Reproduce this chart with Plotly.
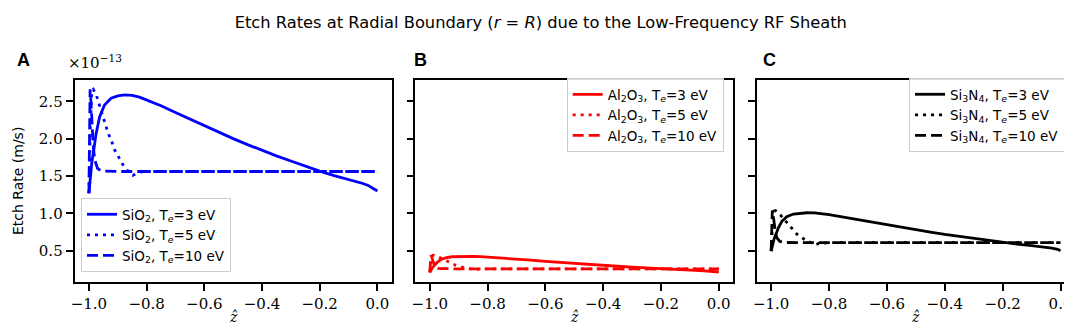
import plotly.graph_objects as go

# ---------------- data (rates in units of 1e-13 m/s) -------------
z_te3 = [-1.0, -0.995, -0.99, -0.985, -0.975, -0.963, -0.946, -0.923, -0.90, -0.876,
         -0.85, -0.825, -0.80, -0.775, -0.75, -0.70, -0.65, -0.60, -0.55, -0.50, -0.45, -0.40,
         -0.35, -0.30, -0.25, -0.20, -0.15, -0.10, -0.05, -0.03, -0.01, 0.0]
z_te5 = [-1.0, -0.995, -0.99, -0.985, -0.975, -0.965, -0.952, -0.943, -0.934, -0.92,
         -0.911, -0.895, -0.882, -0.865, -0.848, -0.835, -0.82, -0.80, -0.60, -0.40,
         -0.20, 0.0]
z_te10 = [-1.0, -0.998, -0.996, -0.993, -0.99, -0.985, -0.98, -0.975, -0.97, -0.96,
          -0.95, -0.90, -0.50, 0.0]

sio2_te3 = [1.27, 1.50, 1.68, 1.80, 2.07, 2.29, 2.45, 2.54, 2.572, 2.585,
            2.578, 2.555, 2.52, 2.48, 2.44, 2.35, 2.26, 2.17, 2.08, 2.00, 1.92, 1.84,
            1.77, 1.70, 1.63, 1.565, 1.505, 1.455, 1.40, 1.37, 1.33, 1.30]
sio2_te5 = [1.27, 2.20, 2.64, 2.66, 2.59, 2.47, 2.32, 2.20, 2.08, 1.95,
            1.85, 1.74, 1.65, 1.57, 1.51, 1.53, 1.555, 1.56, 1.56, 1.56,
            1.56, 1.56]
sio2_te10 = [1.27, 2.00, 2.66, 2.50, 2.20, 1.90, 1.72, 1.64, 1.60, 1.575,
             1.565, 1.56, 1.56, 1.56]

al2o3_te3 = [0.210, 0.248, 0.277, 0.297, 0.342, 0.378, 0.404, 0.419, 0.424, 0.427,
             0.425, 0.422, 0.416, 0.409, 0.403, 0.388, 0.373, 0.358, 0.343, 0.330, 0.317, 0.304,
             0.292, 0.281, 0.269, 0.258, 0.248, 0.240, 0.231, 0.226, 0.219, 0.215]
al2o3_te5 = [0.210, 0.363, 0.436, 0.439, 0.427, 0.408, 0.383, 0.363, 0.343, 0.322,
             0.305, 0.287, 0.272, 0.259, 0.249, 0.252, 0.257, 0.257, 0.257, 0.257,
             0.257, 0.257]
al2o3_te10 = [0.210, 0.330, 0.439, 0.413, 0.363, 0.314, 0.284, 0.271, 0.264, 0.260,
              0.258, 0.257, 0.257, 0.257]

si3n4_te3 = [0.495, 0.585, 0.655, 0.702, 0.807, 0.893, 0.956, 0.991, 1.003, 1.008,
             1.005, 0.996, 0.983, 0.967, 0.952, 0.917, 0.881, 0.846, 0.811, 0.780, 0.749, 0.718,
             0.690, 0.663, 0.636, 0.610, 0.587, 0.567, 0.546, 0.534, 0.519, 0.500]
si3n4_te5 = [0.495, 0.858, 1.030, 1.037, 1.010, 0.963, 0.905, 0.858, 0.811, 0.761,
             0.722, 0.679, 0.644, 0.612, 0.580, 0.597, 0.606, 0.608, 0.608, 0.608,
             0.608, 0.608]
si3n4_te10 = [0.495, 0.780, 1.037, 0.975, 0.858, 0.741, 0.671, 0.640, 0.624, 0.614,
              0.610, 0.608, 0.608, 0.608]

x_ticks = [-1.0, -0.8, -0.6, -0.4, -0.2, 0.0]
x_ticklabels = ["\u22121.0", "\u22120.8", "\u22120.6", "\u22120.4", "\u22120.2", "0.0"]
y_ticks = [0.5, 1.0, 1.5, 2.0, 2.5]
y_ticklabels = ["0.5", "1.0", "1.5", "2.0", "2.5"]

materials = [
    ("SiO<sub>2</sub>", "#0000ff", [sio2_te3, sio2_te5, sio2_te10]),
    ("Al<sub>2</sub>O<sub>3</sub>", "#ff0000", [al2o3_te3, al2o3_te5, al2o3_te10]),
    ("Si<sub>3</sub>N<sub>4</sub>", "#000000", [si3n4_te3, si3n4_te5, si3n4_te10]),
]
te_values = ["3", "5", "10"]
z_grids = [z_te3, z_te5, z_te10]
dashes = ["solid", "3px,5px", "11px,5px"]

SERIF = "DejaVu Serif"
SANS = "DejaVu Sans"
L, T, PW, PH = 66, 72, 1003, 202


def px(xp):
    return (xp - L) / PW


def py(yp):
    return (T + PH - yp) / PH


fig = go.Figure()
for i, (mat, color, series) in enumerate(materials):
    axn = "" if i == 0 else str(i + 1)
    leg = "legend" if i == 0 else f"legend{i + 1}"
    for j in range(3):
        fig.add_trace(go.Scatter(
            x=z_grids[j], y=series[j], mode="lines",
            line=dict(color=color, width=2.8, dash=dashes[j]),
            name=f"{mat}, T<sub><i>e</i></sub>=" + te_values[j] + " eV",
            xaxis="x" + axn, yaxis="y" + axn, legend=leg,
        ))

domains = [[0.0005, 0.3175], [0.341, 0.6585], [0.682, 1.0]]
axis_common = dict(showline=True, linecolor="black", linewidth=1.6, mirror=True,
                   ticks="outside", ticklen=7, tickwidth=1.5, tickcolor="black",
                   showgrid=False, zeroline=False)
layout = dict(
    width=1072, height=324,
    margin=dict(l=L, r=1072 - L - PW, t=T, b=324 - T - PH),
    plot_bgcolor="white", paper_bgcolor="white",
    title=dict(text="Etch Rates at Radial Boundary (<i>r</i> = <i>R</i>) due to the Low-Frequency RF Sheath",
               x=0.497, xref="container", y=1 - 14 / 324, yref="container",
               xanchor="center", yanchor="middle",
               font=dict(family=SANS, size=16.3, color="black")),
)
for i in range(3):
    axn = "" if i == 0 else str(i + 1)
    layout["xaxis" + axn] = dict(domain=domains[i], range=[-1.05, 0.05],
                                 tickvals=x_ticks, ticktext=x_ticklabels,
                                 tickfont=dict(family=SERIF, size=15, color="black"),
                                 anchor="y" + axn, **axis_common)
    layout["yaxis" + axn] = dict(domain=[0, 1], range=[0.081, 2.785],
                                 tickvals=y_ticks, ticktext=y_ticklabels,
                                 tickfont=dict(family=SERIF, size=15, color="black"),
                                 showticklabels=(i == 0),
                                 anchor="x" + axn, **axis_common)

leg_common = dict(bgcolor="rgba(255,255,255,0.85)", bordercolor="#cccccc", borderwidth=1,
                  font=dict(family=SANS, size=13.5, color="black"), itemwidth=30,
                  tracegroupgap=0)
layout["legend"] = dict(x=px(73), y=py(190), xanchor="left", yanchor="top", **leg_common)
layout["legend2"] = dict(x=px(717), y=py(70), xanchor="right", yanchor="top", **leg_common)
layout["legend3"] = dict(x=px(1059), y=py(70), xanchor="right", yanchor="top", **leg_common)
fig.update_layout(**layout)

# panel letters
for letter, xp in [("A", 15), ("B", 413), ("C", 763)]:
    fig.add_annotation(text="<b>" + letter + "</b>", x=px(xp), y=py(52.5),
                       xref="paper", yref="paper", showarrow=False,
                       xanchor="center", yanchor="middle",
                       font=dict(family="Liberation Sans", size=18, color="black"))

# exponent of the shared y axis
fig.add_annotation(text="\u00d710<sup>\u221213</sup>", x=px(58), y=py(54),
                   xref="paper", yref="paper", showarrow=False,
                   xanchor="left", yanchor="middle",
                   font=dict(family=SERIF, size=15, color="black"))
fig.add_annotation(text="Etch Rate (m/s)", x=px(10), y=py(173),
                   xref="paper", yref="paper", showarrow=False, textangle=-90,
                   xanchor="center", yanchor="middle",
                   font=dict(family=SANS, size=14, color="black"))
for xc in [225.5, 567.25, 909.25]:
    fig.add_annotation(text="<i>\u1e91</i>", x=px(xc), y=py(309),
                       xref="paper", yref="paper", showarrow=False,
                       xanchor="center", yanchor="middle",
                       font=dict(family=SERIF, size=14, color="black"))

fig.write_html("out.html")
